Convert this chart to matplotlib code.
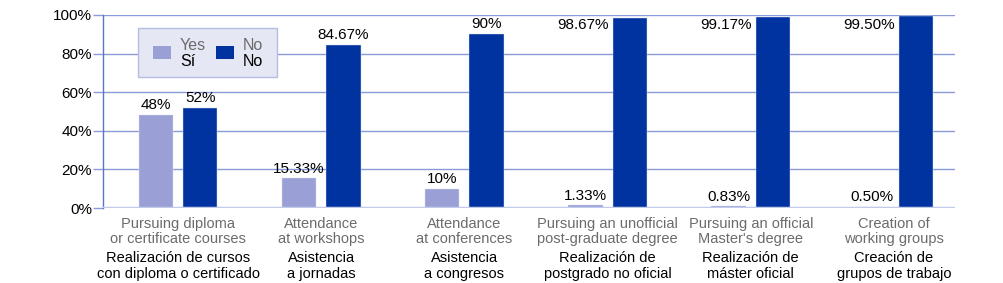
import matplotlib
matplotlib.use("Agg")
import matplotlib.pyplot as plt
from matplotlib.patches import Rectangle
import numpy as np

plt.rcParams['font.family'] = ['Liberation Sans', 'DejaVu Sans']

cat_en = ["Pursuing diploma\nor certificate courses", "Attendance\nat workshops",
          "Attendance\nat conferences", "Pursuing an unofficial\npost-graduate degree",
          "Pursuing an official\nMaster's degree", "Creation of\nworking groups"]
cat_es = ["Realización de cursos\ncon diploma o certificado", "Asistencia\na jornadas",
          "Asistencia\na congresos", "Realización de\npostgrado no oficial",
          "Realización de\nmáster oficial", "Creación de\ngrupos de trabajo"]
yes_vals = [48, 15.33, 10, 1.33, 0.83, 0.50]
no_vals = [52, 84.67, 90, 98.67, 99.17, 99.50]
yes_labels = ["48%", "15.33%", "10%", "1.33%", "0.83%", "0.50%"]
no_labels = ["52%", "84.67%", "90%", "98.67%", "99.17%", "99.50%"]
yticks = [0, 20, 40, 60, 80, 100]
ytick_labels = ["0%", "20%", "40%", "60%", "80%", "100%"]

c_yes = "#9A9FD6"
c_no = "#0033A0"
c_grid = "#8A9CD8"

fig = plt.figure(figsize=(10.04, 2.83), dpi=100)
ax = fig.add_axes([103/1004, 1-208/283, 852/1004, 193/283])

x = np.arange(len(cat_en))
w = 0.24
off = 0.155
ax.bar(x - off, yes_vals, w, color=c_yes, edgecolor="#DDE1F2", linewidth=0.3, zorder=3)
ax.bar(x + off, no_vals, w, color=c_no, edgecolor="#DDE1F2", linewidth=0.3, zorder=3)

ax.set_xlim(-0.524, 5.426)
ax.set_ylim(0, 100)
ax.set_yticks(yticks)
ax.set_yticklabels(ytick_labels, fontsize=11)
ax.tick_params(axis='y', length=7, color=c_grid, pad=1, width=1)
ax.set_xticks([])
for yv in yticks[1:]:
    ax.axhline(yv, color=c_grid, lw=1, zorder=1)
ax.axhline(0, color="#C2CCEA", lw=2.5, zorder=4)
for s in ["top", "right", "bottom"]:
    ax.spines[s].set_visible(False)
ax.spines["left"].set_color("#5A74C8")
ax.spines["left"].set_linewidth(1)

for i in range(len(x)):
    ax.text(x[i] - off, yes_vals[i] + 1.5, yes_labels[i], ha="center", va="bottom", fontsize=11, zorder=5)
    if no_vals[i] > 95:
        ax.text(x[i] + off - w/2 - 0.03, 98.5, no_labels[i], ha="right", va="top", fontsize=11, zorder=5)
    else:
        ax.text(x[i] + off, no_vals[i] + 1.5, no_labels[i], ha="center", va="bottom", fontsize=11, zorder=5)

trans = ax.get_xaxis_transform()
for i in range(len(x)):
    ax.text(x[i], -0.045, cat_en[i], transform=trans, ha="center", va="top",
            fontsize=10.5, color="#6B6B6B", linespacing=1.1)
    ax.text(x[i], -0.225, cat_es[i], transform=trans, ha="center", va="top",
            fontsize=10.5, color="black", linespacing=1.1)

# legend box
def fx(px):
    return (px - 103) / 852
def fy(py):
    return (208 - py) / 193
ax.add_patch(Rectangle((fx(138), fy(77)), fx(277) - fx(138), fy(28) - fy(77), transform=ax.transAxes,
                       facecolor="#E5E7F4", edgecolor="#B4BEE2", lw=1, zorder=6, clip_on=False))
ax.add_patch(Rectangle((fx(153), fy(59)), fx(171) - fx(153), fy(46) - fy(59), transform=ax.transAxes,
                       facecolor=c_yes, edgecolor="none", zorder=7, clip_on=False))
ax.add_patch(Rectangle((fx(216), fy(59)), fx(234) - fx(216), fy(46) - fy(59), transform=ax.transAxes,
                       facecolor=c_no, edgecolor="none", zorder=7, clip_on=False))
ax.text(fx(180), fy(45), "Yes", transform=ax.transAxes, ha="left", va="center", fontsize=11.5, color="#6B6B6B", zorder=8)
ax.text(fx(180), fy(62), "Sí", transform=ax.transAxes, ha="left", va="center", fontsize=11.5, color="black", zorder=8)
ax.text(fx(243), fy(45), "No", transform=ax.transAxes, ha="left", va="center", fontsize=11.5, color="#6B6B6B", zorder=8)
ax.text(fx(243), fy(62), "No", transform=ax.transAxes, ha="left", va="center", fontsize=11.5, color="black", zorder=8)

fig.savefig("out.png", dpi=100)
